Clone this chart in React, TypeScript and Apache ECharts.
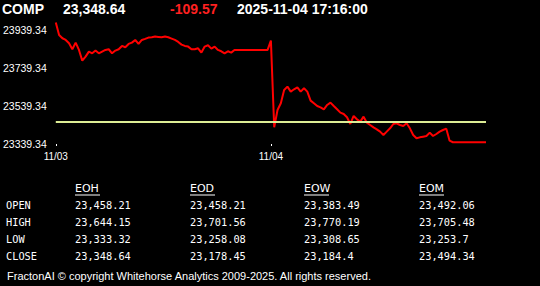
import React, { useEffect, useRef } from "react";
import * as echarts from "echarts";

// ---- data ----
const symbolName = "COMP";
const lastPrice = "23,348.64";
const priceChange = "-109.57";
const timestamp = "2025-11-04 17:16:00";

const day1Prices = [
  23977.9, 23913.0, 23895.5, 23886.7, 23869.1, 23837.6, 23872.6, 23834.0, 23777.9, 23799.0,
  23825.3, 23816.5, 23830.6, 23816.5, 23825.3, 23834.0, 23837.6, 23816.5, 23830.6, 23837.6,
  23855.1, 23848.1, 23865.6, 23872.6, 23886.7, 23865.6, 23886.7, 23892.0, 23899.0, 23900.7,
  23904.2, 23902.5, 23900.7, 23904.2, 23900.7, 23893.7, 23886.7, 23876.2, 23862.1, 23855.1,
  23851.6, 23837.6, 23837.6, 23842.8, 23820.0, 23851.6, 23858.6, 23841.1, 23851.6, 23834.0,
  23827.0, 23816.5, 23827.0, 23820.0, 23834.0, 23834.0, 23834.0, 23834.0, 23834.0, 23834.0,
  23834.0, 23834.0, 23834.0, 23834.0, 23834.0,
];
const day2Prices = [
  23883.2, 23427.0, 23518.3, 23553.4, 23623.5, 23641.1, 23614.8, 23627.0, 23637.6, 23614.8,
  23632.3, 23614.8, 23567.4, 23553.4, 23539.3, 23532.3, 23521.8, 23544.6, 23556.9, 23539.3,
  23521.8, 23504.2, 23497.2, 23479.7, 23444.6, 23486.7, 23469.1, 23456.9, 23483.2, 23451.6,
  23439.3, 23427.0, 23416.5, 23404.2, 23386.7, 23404.2, 23421.8, 23444.6, 23448.1, 23439.3,
  23434.0, 23448.1, 23421.8, 23386.7, 23369.2, 23374.4, 23377.9, 23381.4, 23399.0, 23381.4,
  23391.9, 23404.2, 23413.0, 23420.0, 23356.8, 23348.64, 23348.64, 23348.64, 23348.64, 23348.64,
  23348.64, 23348.64, 23348.64, 23348.64, 23348.64, 23348.64,
];
const priceValues = [...day1Prices, ...day2Prices];
const dayLabels = ["11/03", "11/04"];
const dayStartIndex = [0, 65];
const previousClose = 23458.21;
const yTickValues = [23339.34, 23539.34, 23739.34, 23939.34];

const tableColumns = ["EOH", "EOD", "EOW", "EOM"];
const rowLabels = ["OPEN", "HIGH", "LOW", "CLOSE"];
const eohValues = [23458.21, 23644.15, 23333.32, 23348.64];
const eodValues = [23458.21, 23701.56, 23258.08, 23178.45];
const eowValues = [23383.49, 23770.19, 23308.65, 23184.4];
const eomValues = [23492.06, 23705.48, 23253.7, 23494.34];
const footerText = "FractonAI \u00A9 copyright Whitehorse Analytics 2009-2025. All rights reserved.";

// ---- layout ----
const colX = [75, 190, 304, 419];
const rowY = [205, 222, 239, 256];
const headerY = 188;

const fmt = (v: number) => v.toLocaleString("en-US", { maximumFractionDigits: 3 });

export default function App() {
  const ref = useRef<HTMLDivElement>(null);
  useEffect(() => {
    const chart = echarts.init(ref.current!, null, { renderer: "svg" });
    const columnsData = [eohValues, eodValues, eowValues, eomValues];
    const monoFont = "10.3px 'DejaVu Sans Mono'";
    const graphic: any[] = [
      { type: "text", x: 2, y: 9, style: { text: symbolName, fill: "#fff", font: "bold 14px 'Liberation Sans'", verticalAlign: "middle" } },
      { type: "text", x: 63, y: 9, style: { text: lastPrice, fill: "#fff", font: "bold 14px 'Liberation Sans'", verticalAlign: "middle" } },
      { type: "text", x: 170, y: 9, style: { text: priceChange, fill: "#ff2020", font: "bold 14px 'Liberation Sans'", verticalAlign: "middle" } },
      { type: "text", x: 237, y: 9, style: { text: timestamp, fill: "#fff", font: "bold 14px 'Liberation Sans'", verticalAlign: "middle" } },
      { type: "text", x: 7, y: 276, style: { text: footerText, fill: "#fff", font: "11px 'Liberation Sans'", verticalAlign: "middle" } },
    ];
    tableColumns.forEach((c, ci) => {
      graphic.push({ type: "text", x: colX[ci], y: headerY, style: { text: c, fill: "#fff", font: "11px 'DejaVu Sans'", verticalAlign: "middle" } });
      graphic.push({ type: "line", shape: { x1: colX[ci], y1: headerY + 7, x2: colX[ci] + 25, y2: headerY + 7 }, style: { stroke: "#fff", lineWidth: 1 } });
      columnsData[ci].forEach((v, ri) => {
        graphic.push({ type: "text", x: colX[ci], y: rowY[ri], style: { text: fmt(v), fill: "#fff", font: monoFont, verticalAlign: "middle" } });
      });
    });
    rowLabels.forEach((r, ri) => {
      graphic.push({ type: "text", x: 6, y: rowY[ri], style: { text: r, fill: "#fff", font: monoFont, verticalAlign: "middle" } });
    });

    chart.setOption({
      animation: false,
      backgroundColor: "#000",
      grid: { left: 55, right: 54, top: 18, bottom: 142, containLabel: false },
      xAxis: {
        type: "value",
        min: 0,
        max: priceValues.length - 1,
        axisLine: { show: false },
        splitLine: { show: false },
        axisTick: { show: true, customValues: dayStartIndex, length: 2, lineStyle: { color: "#fff", width: 1 } },
        axisLabel: {
          customValues: dayStartIndex,
          formatter: (v: number) => dayLabels[dayStartIndex.indexOf(v)] ?? "",
          color: "#fff",
          fontSize: 10,
          fontFamily: "Liberation Sans",
          margin: 7,
        },
      },
      yAxis: {
        type: "value",
        min: 23339.34,
        max: 24002,
        axisLine: { show: false },
        axisTick: { show: false },
        splitLine: { show: false },
        axisLabel: {
          customValues: yTickValues,
          formatter: (v: number) => v.toFixed(2),
          color: "#fff",
          fontSize: 10.5,
          fontFamily: "Liberation Sans",
          margin: 9,
        },
      },
      series: [
        {
          type: "line",
          data: priceValues.map((v, i) => [i, v]),
          showSymbol: false,
          symbol: "none",
          lineStyle: { color: "#ff0000", width: 2 },
          markLine: {
            silent: true,
            symbol: ["none", "none"],
            label: { show: false },
            lineStyle: { color: "#dcec94", width: 2, type: "solid" },
            data: [{ yAxis: previousClose }],
          },
        },
      ],
      graphic,
    });
    return () => chart.dispose();
  }, []);
  return (
    <div
      ref={ref}
      style={{ position: "absolute", left: 0, top: 0, width: 540, height: 286, background: "#000" }}
    />
  );
}
